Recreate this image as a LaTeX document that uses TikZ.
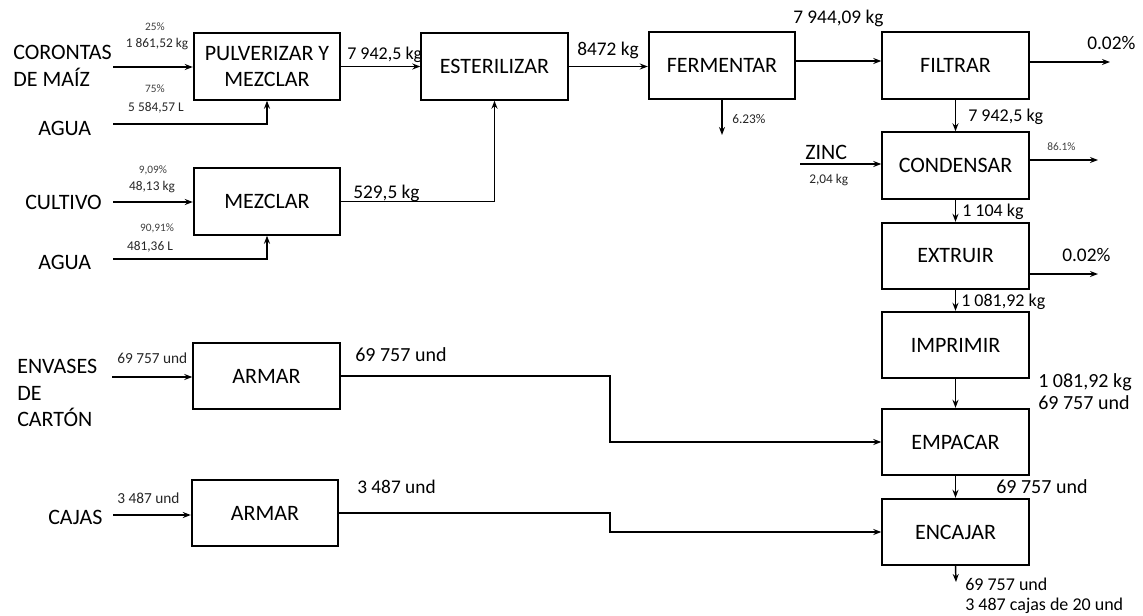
\documentclass[tikz,border=0pt]{standalone}
\usepackage{fontspec}
\setmainfont{Carlito}
\usetikzlibrary{arrows.meta}
\begin{document}
\begin{tikzpicture}[x=0.75pt,y=-0.75pt,
 box/.style={draw,line width=1.3pt,minimum width=110pt,minimum height=50pt,inner sep=0pt,font=\fontsize{16.5}{20}\selectfont,align=center},
 arr/.style={line width=1.1pt,-{Stealth[length=6pt,width=4.5pt]}},
 big/.style={font=\fontsize{16.5}{20}\selectfont,inner sep=0pt},
 lg/.style={font=\fontsize{14.5}{16}\selectfont,inner sep=0pt},
 lb/.style={font=\fontsize{13.5}{15}\selectfont,inner sep=0pt},
 md/.style={font=\fontsize{11.5}{13}\selectfont,inner sep=0pt,text=black!85},
 sm/.style={font=\fontsize{10}{12}\selectfont,inner sep=0pt,text=black!85},
 xs/.style={font=\fontsize{8.5}{10}\selectfont,inner sep=0pt,text=black!75}]
\useasboundingbox (0,0) rectangle (1143,615);
% boxes
\node[box] (pulv) at (267,66.5) {PULVERIZAR Y\\MEZCLAR};
\node[box] (ester) at (494.5,66.5) {ESTERILIZAR};
\node[box] (ferm) at (722,65.5) {FERMENTAR};
\node[box] (filt) at (955.5,65.5) {FILTRAR};
\node[box] (cond) at (955.5,165.5) {CONDENSAR};
\node[box] (extr) at (955.5,256) {EXTRUIR};
\node[box] (impr) at (955.5,345) {IMPRIMIR};
\node[box] (emp) at (955.5,442) {EMPACAR};
\node[box] (enc) at (955.5,532) {ENCAJAR};
\node[box] (mez) at (267,201.5) {MEZCLAR};
\node[box] (arm1) at (266.5,376) {ARMAR};
\node[box] (arm2) at (265,513) {ARMAR};
% inputs
\node[big,anchor=west,align=left] (coro) at (13,66) {CORONTAS\\DE MAÍZ};
\node[big,anchor=west] (agua1) at (38,128) {AGUA};
\node[big,anchor=west] (cult) at (25,202) {CULTIVO};
\node[big,anchor=west] (agua2) at (38,262) {AGUA};
\node[big,anchor=west,align=left] (env) at (17,393) {ENVASES\\DE\\CARTÓN};
\node[big,anchor=west] (cajas) at (48,517) {CAJAS};
\node[big,anchor=west] (zinc) at (805,152) {ZINC};
% helper coordinates
\coordinate (s1) at (113,67);
\coordinate (s2) at (113,124);
\coordinate (s3) at (113,202);
\coordinate (s4) at (113,259);
\coordinate (y61) at (0,61);
\coordinate (z1) at (800,164);
\coordinate (e1) at (112,377);
\coordinate (c1) at (113,515);
\coordinate (o1) at (722,135);
\coordinate (o2) at (1110,62);
\coordinate (o3) at (1098,160);
\coordinate (o4) at (1098,274);
\coordinate (o5) at (956,582);
\coordinate (k1) at (610,376);
\coordinate (k2) at (610,513);
% connectors
\draw[arr] (s1) -- (s1 -| pulv.west);
\draw[arr] (s2) -| (pulv.south);
\draw[arr] (s3) -- (s3 -| mez.west);
\draw[arr] (s4) -| (mez.south);
\draw[arr] (pulv.east) -- (ester.west);
\draw[arr] (mez.east) -| (ester.south);
\draw[arr] (ester.east) -- (ester.east -| ferm.west);
\draw[arr] (ferm.south) -- (o1);
\draw[arr] (ferm.east |- y61) -- (filt.west |- y61);
\draw[arr] (o2 -| filt.east) -- (o2);
\draw[arr] (filt.south) -- (cond.north);
\draw[arr] (z1) -- (z1 -| cond.west);
\draw[arr] (o3 -| cond.east) -- (o3);
\draw[arr] (cond.south) -- (extr.north);
\draw[arr] (o4 -| extr.east) -- (o4);
\draw[arr] (extr.south) -- (impr.north);
\draw[arr] (impr.south) -- (emp.north);
\draw[arr] (emp.south) -- (enc.north);
\draw[arr] (enc.south) -- (o5);
\draw[arr] (e1) -- (e1 -| arm1.west);
\draw[arr] (arm1.east) -- (k1) |- (emp.west);
\draw[arr] (c1) -- (c1 -| arm2.west);
\draw[arr] (arm2.east) -- (k2) |- (enc.west);
% labels
\node[xs] (l1) at (155,27) {25\%};
\node[sm] (l2) at (157,44) {1 861,52 kg};
\node[xs] (l3) at (155,89) {75\%};
\node[sm] (l4) at (156,108) {5 584,57 L};
\node[xs] (l5) at (153,170) {9,09\%};
\node[sm] (l6) at (152,187) {48,13 kg};
\node[xs] (l7) at (157,228) {90,91\%};
\node[sm] (l8) at (150,247) {481,36 L};
\node[lb,anchor=west] (l9) at (347,55) {7 942,5 kg};
\node[lg,anchor=west] (l10) at (353,193) {529,5 kg};
\node[lg,anchor=west] (l11) at (577,50) {8472 kg};
\node[lg,anchor=west] (l12) at (793,18) {7 944,09 kg};
\node[sm,anchor=west] (l13) at (732,119) {6.23\%};
\node[lg,anchor=west] (l14) at (1087,43) {0.02\%};
\node[lb,anchor=west] (l15) at (968,117) {7 942,5 kg};
\node[sm,anchor=west] (l16) at (809,180) {2,04 kg};
\node[xs,anchor=west] (l17) at (1047,147) {86.1\%};
\node[lb,anchor=west] (l18) at (962,212) {1 104 kg};
\node[lg,anchor=west] (l19) at (1062,255) {0.02\%};
\node[lb,anchor=west] (l20) at (961,302) {1 081,92 kg};
\node[lg,anchor=west,align=left,font=\fontsize{15}{16}\selectfont] (l21) at (1038,391.5) {1 081,92 kg\\69 757 und};
\node[lg,anchor=west,font=\fontsize{15}{16}\selectfont] (l22) at (996,487) {69 757 und};
\node[lb,anchor=west,align=left] (l23) at (965,596) {69 757 und\\3 487 cajas de 20 und};
\node[md,anchor=west] (l24) at (117,358) {69 757 und};
\node[lg,anchor=west,font=\fontsize{15}{16}\selectfont] (l25) at (355,355) {69 757 und};
\node[md,anchor=west] (l26) at (117,498) {3 487 und};
\node[lg,anchor=west] (l27) at (357,487) {3 487 und};
\end{tikzpicture}
\end{document}
